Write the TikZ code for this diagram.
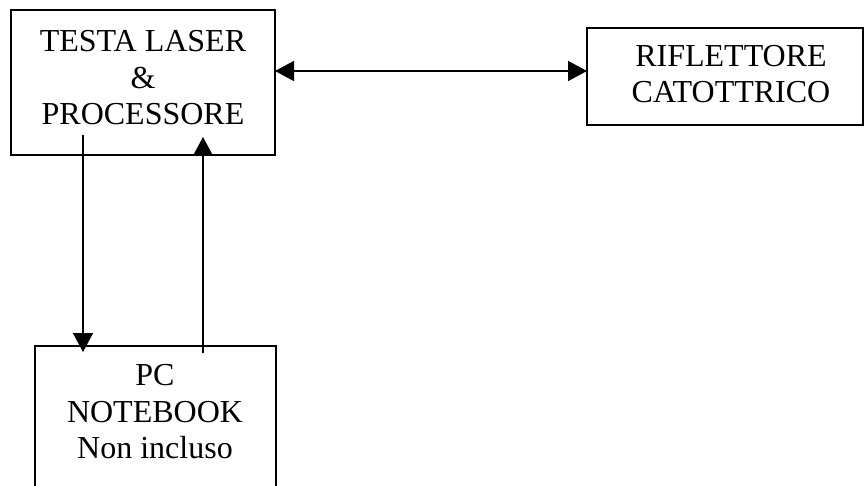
\documentclass[tikz,border=0pt]{standalone}
\usepackage{fontspec}
\setmainfont{Liberation Serif}
\usetikzlibrary{arrows.meta}
\begin{document}
\begin{tikzpicture}[x=1pt,y=-1pt,
  box/.style={draw,line width=1.3pt,inner sep=0pt,outer sep=0pt},
  lbl/.style={font=\fontsize{32}{36.5}\selectfont,align=center,inner sep=0pt,anchor=base},
  tip/.style={Triangle[length=19pt,width=20pt]},
  conn/.style={line width=1.5pt,-{Triangle[length=19pt,width=20pt]}}]
\useasboundingbox[fill=white] (0,0) rectangle (864,486);
\clip (0,0) rectangle (864,486);
\node[box,minimum width=264pt,minimum height=145pt] (laser) at (143,82.5) {};
\node[box,minimum width=276pt,minimum height=97pt] (rifl) at (725,76.5) {};
\node[box,minimum width=241pt,minimum height=170pt] (pc) at (155.5,431) {};
\node[lbl] (t1) at (143,52) {TESTA LASER};
\node[lbl] (t2) at (143,89) {\&};
\node[lbl] (t3) at (143,125) {PROCESSORE};
\node[lbl] (r1) at (731,67) {RIFLETTORE};
\node[lbl] (r2) at (731,103) {CATOTTRICO};
\node[lbl] (p1) at (155,385) {PC};
\node[lbl] (p2) at (155,422) {NOTEBOOK};
\node[lbl] (p3) at (155,458) {Non incluso};
\coordinate (ab) at (laser.east |- 0,71);
\coordinate (ba) at (rifl.west |- 0,71);
\coordinate (d1) at (83,135);
\coordinate (d2) at ([yshift=-6pt]pc.north -| d1);
\coordinate (u1) at ([yshift=-7pt]pc.north -| 203,0);
\coordinate (u2) at (203,137);
\draw[line width=1.5pt,{Triangle[length=19pt,width=20pt]}-{Triangle[length=19pt,width=20pt]}] (ab) -- (ba);
\draw[conn] (d1) -- (d2);
\draw[conn] (u1) -- (u2);
\end{tikzpicture}
\end{document}
